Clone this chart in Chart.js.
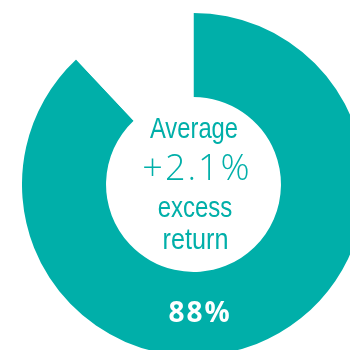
<!DOCTYPE html>
<html>
<head>
<meta charset="utf-8">
<script src="https://cdn.jsdelivr.net/npm/chart.js@4"></script>
<style>
  html, body { margin: 0; padding: 0; background: #ffffff; overflow: hidden; width: 350px; height: 350px; }
  #wrap { position: absolute; left: 22px; top: 13px; width: 343px; height: 343px; }
</style>
</head>
<body>
<div id="wrap"><canvas id="c" width="343" height="343"></canvas></div>
<script>
// Share of periods with a positive excess return
const categories = ['Positive excess return', 'Other'];
const shares = [88, 12];
const sliceColors = ['#00AFA9', '#ffffff'];
const centerLines = ['Average', '+2.1%', 'excess', 'return'];
const shareLabel = shares[0] + '%';

const TEAL = '#00AFA9';

// draw text squeezed horizontally, centred on (x, y)
function narrowText(ctx, text, x, y, squeeze) {
  ctx.save();
  ctx.translate(x, y);
  ctx.scale(squeeze, 1);
  ctx.fillText(text, 0, 0);
  ctx.restore();
}

const centerText = {
  id: 'centerText',
  afterDatasetsDraw(chart) {
    const arc = chart.getDatasetMeta(0).data[0];
    const { x, y, innerRadius, outerRadius } = arc.getProps(['x', 'y', 'innerRadius', 'outerRadius'], true);
    const ctx = chart.ctx;
    ctx.save();
    ctx.textAlign = 'center';
    ctx.textBaseline = 'alphabetic';
    ctx.fillStyle = TEAL;

    ctx.font = '29px "Liberation Sans", Arial, sans-serif';
    narrowText(ctx, centerLines[0], x + 0.5, y - 46.5, 0.82);

    ctx.font = '300 36px "Open Sans", "Liberation Sans", sans-serif';
    ctx.letterSpacing = '2px';
    ctx.fillText(centerLines[1], x + 3.5, y - 4.5);
    ctx.letterSpacing = '0px';

    ctx.font = '30px "Liberation Sans", Arial, sans-serif';
    narrowText(ctx, centerLines[2], x + 1.5, y + 32, 0.8);
    narrowText(ctx, centerLines[3], x + 2, y + 64, 0.84);

    // value label on the ring, at its lowest point
    const mid = (innerRadius + outerRadius) / 2;
    ctx.fillStyle = '#ffffff';
    ctx.font = 'bold 28px "Open Sans", "Liberation Sans", sans-serif';
    ctx.letterSpacing = '2px';
    ctx.textBaseline = 'alphabetic';
    ctx.fillText(shareLabel, x + 6.5, y + mid + 8.5);
    ctx.restore();
  }
};

new Chart(document.getElementById('c'), {
  type: 'doughnut',
  data: {
    labels: categories,
    datasets: [{
      data: shares,
      backgroundColor: sliceColors,
      borderWidth: 0,
      hoverOffset: 0
    }]
  },
  options: {
    responsive: false,
    animation: false,
    cutout: '51%',
    rotation: 0,
    layout: { padding: 0 },
    plugins: {
      legend: { display: false },
      tooltip: { enabled: false }
    },
    events: []
  },
  plugins: [centerText]
});
</script>
</body>
</html>
